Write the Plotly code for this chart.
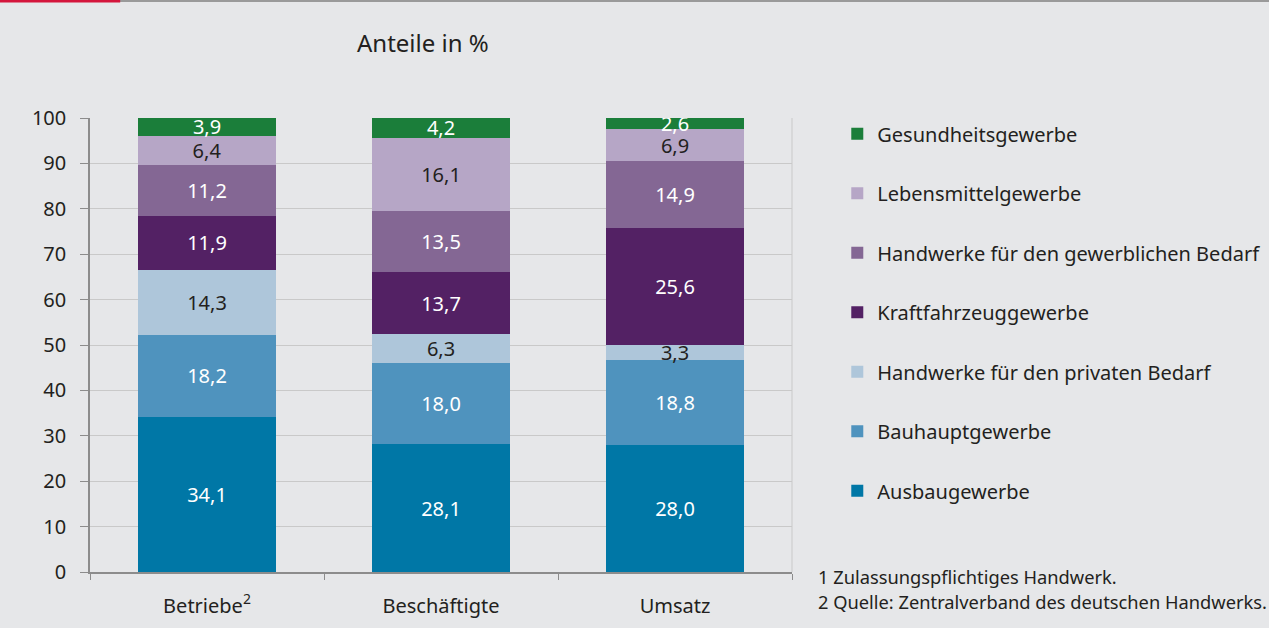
import plotly.graph_objects as go

categories = ["Betriebe<sup>2</sup>", "Beschäftigte", "Umsatz"]
series_names = [
    "Ausbaugewerbe",
    "Bauhauptgewerbe",
    "Handwerke für den privaten Bedarf",
    "Kraftfahrzeuggewerbe",
    "Handwerke für den gewerblichen Bedarf",
    "Lebensmittelgewerbe",
    "Gesundheitsgewerbe",
]
ausbau = [34.1, 28.1, 28.0]
bauhaupt = [18.2, 18.0, 18.8]
privat = [14.3, 6.3, 3.3]
kfz = [11.9, 13.7, 25.6]
gewerblich = [11.2, 13.5, 14.9]
lebensmittel = [6.4, 16.1, 6.9]
gesundheit = [3.9, 4.2, 2.6]
series_values = [ausbau, bauhaupt, privat, kfz, gewerblich, lebensmittel, gesundheit]
colors = ["#0077A6", "#4F93BE", "#AEC6DA", "#532164", "#846794", "#B6A6C6", "#1B7E3A"]
text_colors = ["white", "white", "#231F20", "white", "white", "#231F20", "white"]
y_ticks = [0, 10, 20, 30, 40, 50, 60, 70, 80, 90, 100]

FONT = "Noto Sans"
fig = go.Figure()
n = len(series_names)
for i, (name, vals) in enumerate(zip(series_names, series_values)):
    fig.add_trace(go.Bar(
        x=categories, y=vals, name=name,
        marker=dict(color=colors[i], line=dict(width=0)),
        texttemplate="%{y:.1f}", textposition="inside",
        insidetextanchor="middle", constraintext="none",
        textfont=dict(color=text_colors[i], size=20, family=FONT),
        legendgroup=name, legendrank=n - i, width=0.59,
    ))

fig.update_layout(
    barmode="stack",
    separators=",.",
    width=1269, height=628,
    paper_bgcolor="#E6E7E9", plot_bgcolor="#E6E7E9",
    margin=dict(l=90, r=477, t=118, b=56, autoexpand=False),
    font=dict(family=FONT, size=20, color="#231F20"),
    uniformtext=dict(minsize=20, mode="show"),
    showlegend=True,
    legend=dict(
        x=1.0645, y=1.008, xanchor="left", yanchor="top",
        traceorder="grouped", tracegroupgap=30.5, maxheight=600,
        font=dict(size=20, family=FONT, color="#231F20"),
        bgcolor="rgba(0,0,0,0)", itemclick=False,
    ),
    xaxis=dict(
        range=[-0.5, 2.5], showgrid=False, showline=True, linecolor="#8C8C8C", linewidth=1.5,
        ticks="outside", tickson="boundaries", ticklen=6, tickcolor="#8C8C8C",
        tickfont=dict(size=20, family=FONT), ticklabelstandoff=15, fixedrange=True,
    ),
    yaxis=dict(
        range=[0, 100], tickvals=y_ticks, showgrid=True, gridcolor="#C9C9C9", gridwidth=1,
        showline=True, linecolor="#8C8C8C", linewidth=1.5, ticks="outside", ticklen=8,
        tickcolor="#8C8C8C", tickfont=dict(size=20, family=FONT), ticklabelstandoff=10,
        zeroline=False, fixedrange=True,
    ),
    shapes=[
        dict(type="line", xref="paper", yref="paper", x0=1, x1=1, y0=0, y1=1,
             line=dict(color="#C9C9C9", width=1)),
        dict(type="line", xref="paper", yref="paper", x0=-0.13, x1=1.7, y0=1.2577, y1=1.2577,
             line=dict(color="#9A9A9A", width=2)),
        dict(type="line", xref="paper", yref="paper", x0=-0.13, x1=0.043, y0=1.2577, y1=1.2577,
             line=dict(color="#D4163C", width=3)),
    ],
    annotations=[
        dict(text="Anteile in %", xref="paper", yref="paper", x=0.475, y=1.167,
             xanchor="center", yanchor="middle",
             showarrow=False, font=dict(size=24, family=FONT, color="#231F20")),
        dict(text="1 Zulassungspflichtiges Handwerk.", xref="paper", yref="paper",
             x=1.0342, y=-0.011, xanchor="left", yanchor="middle", showarrow=False,
             font=dict(size=18.3, family=FONT, color="#231F20")),
        dict(text="2 Quelle: Zentralverband des deutschen Handwerks.", xref="paper", yref="paper",
             x=1.0342, y=-0.066, xanchor="left", yanchor="middle", showarrow=False,
             font=dict(size=18.3, family=FONT, color="#231F20")),
    ],
)

fig.write_html(
    "out.html",
    config={"displayModeBar": False},
    post_script="document.body.style.margin='0';document.body.style.overflow='hidden';",
)
